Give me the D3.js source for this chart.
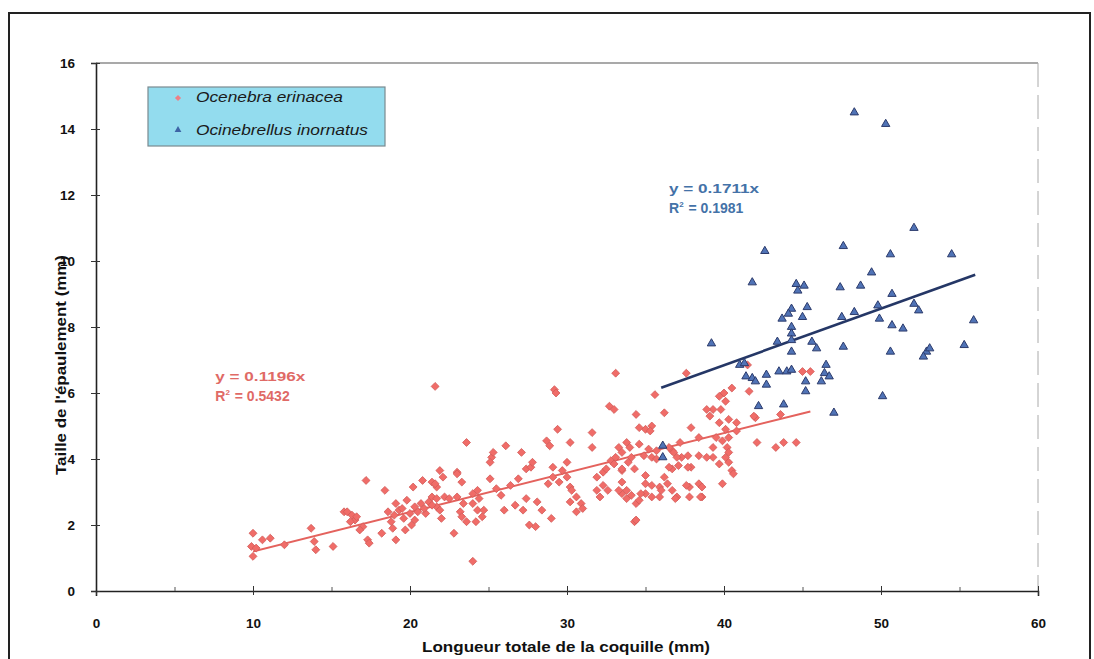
<!DOCTYPE html>
<html>
<head>
<meta charset="utf-8">
<script src="https://cdn.jsdelivr.net/npm/d3@7"></script>
<style>
  body { margin: 0; background: #fff; }
  svg { display: block; font-family: "Liberation Sans", Arial, sans-serif; }
</style>
</head>
<body>
<div id="chart"></div>
<script>
(function () {
    'use strict';

    // Ocenebra erinacea : [longueur, epaulement]
    const erinacea = [
        [10.0,1.75],[9.9,1.35],[10.0,1.05],[10.2,1.3],[10.6,1.55],[11.1,1.6],[12.0,1.4],[13.7,1.9],[13.9,1.5],[14.0,1.25],
        [15.1,1.35],[15.8,2.4],[16.0,2.4],[16.3,2.3],[16.5,2.15],[16.2,2.1],[16.6,2.25],[17.2,3.35],[17.3,1.55],[17.4,1.45],
        [17.0,1.95],[16.8,1.85],[18.2,1.75],[18.4,3.05],[19.1,1.55],[19.1,2.65],[19.3,2.45],[19.7,1.85],[19.8,2.75],[20.2,3.15],
        [20.0,2.35],[20.3,2.55],[20.3,2.15],[20.7,2.65],[20.8,3.35],[21.0,2.35],[21.4,3.3],[21.6,6.2],[21.4,2.85],[21.7,2.55],
        [21.7,3.15],[19.5,2.5],[19.0,2.3],[18.8,2.1],[18.6,2.4],[20.5,2.4],[20.9,2.5],[21.2,2.7],[19.6,2.2],[20.1,2.0],[18.9,1.9],
        [21.9,3.65],[22.1,3.45],[21.6,3.25],[21.7,2.8],[22.2,2.85],[22.5,2.8],[21.9,2.45],[21.4,2.6],[22.0,2.2],[23.0,2.85],
        [23.0,3.6],[23.3,3.3],[23.4,2.65],[23.2,2.4],[23.3,2.25],[23.6,2.1],[24.0,2.95],[24.0,2.65],[24.3,3.05],[24.3,2.45],
        [24.4,2.8],[24.6,2.25],[24.7,2.45],[24.2,2.1],[25.1,3.4],[25.2,4.05],[25.3,4.2],[25.1,3.9],[25.8,2.9],[26.1,4.4],
        [26.0,2.45],[27.1,4.2],[27.2,2.45],[27.4,2.8],[27.4,3.7],[27.7,3.75],[27.8,3.9],[27.6,2.0],[28.1,2.7],[28.4,2.45],
        [28.7,4.55],[28.9,4.4],[29.1,3.75],[29.1,3.45],[28.8,3.25],[29.2,6.1],[29.3,6.0],[29.4,4.9],[29.5,3.3],[29.7,3.65],
        [30.0,3.9],[30.0,3.45],[30.2,4.5],[30.2,3.15],[30.3,3.05],[30.2,2.7],[30.6,2.85],[30.9,2.65],[31.0,2.5],[30.6,2.4],
        [31.6,4.8],[31.6,4.35],[31.9,3.45],[31.9,3.05],[32.1,2.85],[32.3,3.6],[32.5,3.7],[32.7,5.6],[33.0,5.5],[32.8,3.95],
        [33.0,3.85],[33.1,6.6],[33.3,4.35],[33.1,4.05],[33.5,3.65],[33.5,3.3],[32.3,3.2],[32.6,3.05],[33.5,2.95],[33.9,3.9],
        [22.8,1.75],[23.6,4.5],[24.0,0.9],[23.0,3.55],[26.4,3.2],[26.7,2.6],[28.0,1.95],[29.0,2.2],[25.5,3.1],[26.9,3.4],
        [35.6,5.95],[37.6,6.6],[40.0,6.0],[40.5,6.15],[41.6,6.05],[41.5,6.85],[42.0,5.25],[42.1,4.5],[43.3,4.35],[39.3,5.5],
        [39.8,5.5],[39.1,5.3],[39.7,5.1],[40.3,5.2],[40.8,5.1],[40.8,4.85],[40.1,4.9],[39.5,4.65],[39.9,4.55],[40.3,4.65],
        [40.2,4.35],[39.3,4.35],[40.3,4.2],[40.1,4.05],[39.3,4.05],[40.5,3.65],[39.9,3.25],[38.4,3.25],[38.6,3.15],[37.9,3.75],
        [37.8,3.15],[38.6,2.85],[37.8,2.85],[37.0,2.85],[36.7,3.05],[36.7,3.7],[36.2,3.45],[35.9,3.15],[35.9,2.85],[35.4,2.85],
        [35.0,2.95],[35.0,3.25],[34.4,2.65],[34.6,2.75],[33.8,3.05],[33.3,3.05],[34.3,2.1],[34.4,2.15],[36.0,3.05],[35.7,4.25],
        [35.0,4.9],[34.6,4.95],[34.4,5.35],[33.8,4.5],[37.2,4.5],[37.9,4.95],[38.4,4.65],[36.7,4.25],[37.3,4.05],[39.7,5.9],
        [40.1,5.75],[45.0,6.65],[45.5,6.65],[41.9,5.3],[43.6,5.35],[43.8,4.5],[44.6,4.5],[38.9,5.5],[36.2,5.4],[35.4,5.0],
        [35.3,4.85],[34.6,4.45],[34.0,4.35],[34.9,4.1],[33.5,4.2],[34.1,4.05],[33.5,3.7],[34.3,3.7],[35.2,4.3],[35.4,4.05],
        [36.5,4.35],[36.8,4.2],[37.0,4.05],[37.7,4.1],[38.4,4.1],[38.9,4.05],[39.7,3.85],[40.3,3.9],[40.6,3.55],[37.1,3.8],
        [37.7,3.75],[36.5,3.75],[35.7,4.0],[35.0,3.5],[35.4,3.2],[36.4,3.25],[37.6,3.2],[33.8,2.8],[34.1,2.9],[34.7,2.95],
        [36.9,2.8],[38.5,2.85]
    ];

    // Ocinebrellus inornatus : [longueur, epaulement]
    const inornatus = [
        [48.3,14.5],[50.3,14.15],[42.6,10.3],[52.1,11.0],[47.6,10.45],[54.5,10.2],[50.6,10.2],[41.8,9.35],[44.6,9.3],[45.1,9.25],
        [47.4,9.2],[48.7,9.25],[49.4,9.65],[50.7,9.0],[44.3,8.55],[45.3,8.6],[45.0,8.3],[43.7,8.25],[44.3,8.0],[44.3,7.8],
        [47.5,8.3],[48.3,8.45],[49.8,8.65],[52.1,8.7],[52.4,8.5],[49.9,8.25],[50.7,8.05],[51.4,7.95],[55.9,8.2],[39.2,7.5],
        [43.4,7.55],[44.3,7.6],[45.6,7.55],[44.3,7.25],[45.9,7.35],[47.6,7.4],[50.6,7.25],[52.9,7.25],[53.1,7.35],[52.7,7.1],
        [55.3,7.45],[41.0,6.85],[41.3,6.9],[41.4,6.5],[41.8,6.45],[42.0,6.35],[42.7,6.55],[42.7,6.25],[43.5,6.65],[44.0,6.65],
        [44.3,6.7],[46.5,6.85],[46.4,6.6],[46.7,6.5],[46.2,6.35],[45.2,6.35],[45.2,6.05],[50.1,5.9],[47.0,5.4],[42.2,5.6],
        [43.8,5.65],[36.1,4.4],[36.1,4.05],[44.7,9.1],[44.1,8.4]
    ];

    // regressions through origin
    const slopes = [0.1196, 0.1711];
    const fitRanges = [[10, 45.5], [36, 56]];
    const eqLabels = [["y = 0.1196x", "0.5432"], ["y = 0.1711x", "0.1981"]];
    const eqPos = [[7.6, 6.36], [36.5, 12.05]];

    const seriesNames = ["Ocenebra erinacea", "Ocinebrellus inornatus"];
    const xTicks = [0, 10, 20, 30, 40, 50, 60];
    const xMinor = [5, 15, 25, 35, 45, 55];
    const yTicks = [0, 2, 4, 6, 8, 10, 12, 14, 16];

    const W = 1094, H = 659;
    const redFill = "#f06c68", redLine = "#e4625d", redText = "#e06a66";
    const blueFill = "#5073b6", blueEdge = "#2c3b6c", blueLine = "#253766", blueText = "#4472a8";

    const svg = d3.select("#chart").append("svg")
        .attr("width", W)
        .attr("height", H);

    // outer frame
    svg.append("rect")
        .attr("x", 9).attr("y", 13)
        .attr("width", 1081).attr("height", 660)
        .attr("fill", "none")
        .attr("stroke", "#222")
        .attr("stroke-width", 2);

    const x = d3.scaleLinear().domain([0, 60]).range([96, 1038]);
    const y = d3.scaleLinear().domain([0, 16]).range([591, 63]);

    // plot border top / right (faint)
    svg.append("line")
        .attr("x1", x(0)).attr("x2", x(60)).attr("y1", y(16)).attr("y2", y(16))
        .attr("stroke", "#555").attr("stroke-width", 1.2);
    svg.append("line")
        .attr("x1", x(60)).attr("x2", x(60)).attr("y1", y(16)).attr("y2", y(0))
        .attr("stroke", "#aaa").attr("stroke-width", 1).attr("stroke-dasharray", "24,8");

    // x axis
    const gx = svg.append("g")
        .attr("transform", `translate(0,${y(0)})`)
        .call(d3.axisBottom(x).tickValues(xTicks).tickSize(5).tickPadding(22));
    gx.select(".domain").attr("stroke", "#222").attr("stroke-width", 1.6);
    gx.selectAll(".tick line").attr("y1", -5).attr("y2", 4).attr("stroke", "#333");
    gx.selectAll(".tick text")
        .attr("font-size", 13.5).attr("font-weight", "bold").attr("fill", "#111");

    const gxm = svg.append("g")
        .attr("transform", `translate(0,${y(0)})`)
        .call(d3.axisBottom(x).tickValues(xMinor).tickSize(0).tickFormat(""));
    gxm.select(".domain").remove();
    gxm.selectAll(".tick line").attr("y1", -4).attr("y2", 0).attr("stroke", "#555");

    // y axis
    const gy = svg.append("g")
        .attr("transform", `translate(${x(0)},0)`)
        .call(d3.axisLeft(y).tickValues(yTicks).tickSize(5).tickPadding(16));
    gy.select(".domain").attr("stroke", "#222").attr("stroke-width", 1.6);
    gy.selectAll(".tick line").attr("x1", -5).attr("x2", 4).attr("stroke", "#333");
    gy.selectAll(".tick text")
        .attr("font-size", 13.5).attr("font-weight", "bold").attr("fill", "#111");

    // axis titles
    svg.append("text")
        .attr("x", 566).attr("y", 652)
        .attr("text-anchor", "middle")
        .attr("font-size", 15).attr("font-weight", "bold").attr("fill", "#111")
        .attr("textLength", 288).attr("lengthAdjust", "spacingAndGlyphs")
        .text("Longueur totale de la coquille (mm)");

    svg.append("text")
        .attr("transform", `translate(66,365) rotate(-90)`)
        .attr("text-anchor", "middle")
        .attr("font-size", 14).attr("font-weight", "bold").attr("fill", "#111")
        .attr("textLength", 220).attr("lengthAdjust", "spacingAndGlyphs")
        .text("Taille de l'épaulement (mm)");

    // trend lines
    const lineColors = [redLine, blueLine];
    const lineWidths = [2, 2.6];
    fitRanges.forEach((r, i) => {
        svg.append("line")
            .attr("x1", x(r[0])).attr("y1", y(slopes[i] * r[0]))
            .attr("x2", x(r[1])).attr("y2", y(slopes[i] * r[1]))
            .attr("stroke", lineColors[i])
            .attr("stroke-width", lineWidths[i]);
    });

    // points
    const diamond = d3.symbol().type(d3.symbolDiamond2).size(40);
    const tri = d3.symbol().type(d3.symbolTriangle).size(30);

    svg.append("g").selectAll("path")
        .data(erinacea)
        .enter().append("path")
        .attr("d", diamond)
        .attr("transform", d => `translate(${x(d[0])},${y(d[1])})`)
        .attr("fill", redFill)
        .attr("stroke", "#d25a58")
        .attr("stroke-width", 0.8);

    svg.append("g").selectAll("path")
        .data(inornatus)
        .enter().append("path")
        .attr("d", tri)
        .attr("transform", d => `translate(${x(d[0])},${y(d[1])})`)
        .attr("fill", blueFill)
        .attr("stroke", blueEdge)
        .attr("stroke-width", 1);

    // equations
    const eqColors = [redText, blueText];
    eqLabels.forEach((lab, i) => {
        const x0 = x(eqPos[i][0]);
        const y0 = y(eqPos[i][1]);
        svg.append("text")
            .attr("x", x0).attr("y", y0)
            .attr("font-size", 13.5).attr("font-weight", "bold")
            .attr("fill", eqColors[i])
            .attr("textLength", 90).attr("lengthAdjust", "spacingAndGlyphs")
            .text(lab[0]);
        const t = svg.append("text")
            .attr("x", x0).attr("y", y0 + 20)
            .attr("font-size", 14).attr("font-weight", "bold")
            .attr("fill", eqColors[i]);
        t.append("tspan").text("R");
        t.append("tspan").attr("font-size", 8).attr("dy", -6).text("2");
        t.append("tspan").attr("dy", 6).attr("dx", 1).text(" = " + lab[1]);
    });

    // legend
    const lg = svg.append("g").attr("transform", "translate(148,87)");
    lg.append("rect")
        .attr("width", 237).attr("height", 59)
        .attr("fill", "#93dcee")
        .attr("stroke", "#7a8a90").attr("stroke-width", 1.2);
    lg.append("path").attr("d", d3.symbol().type(d3.symbolDiamond2).size(24)())
        .attr("transform", "translate(30,11)")
        .attr("fill", "#ee7f86");
    lg.append("path").attr("d", d3.symbol().type(d3.symbolTriangle).size(20)())
        .attr("transform", "translate(30,43)")
        .attr("fill", "#3d64a6");
    const legLens = [147, 172];
    seriesNames.forEach((n, i) => {
        lg.append("text")
            .attr("x", 48).attr("y", 15 + i * 33)
            .attr("font-size", 15).attr("font-style", "italic")
            .attr("fill", "#1a1a1a")
            .attr("textLength", legLens[i]).attr("lengthAdjust", "spacingAndGlyphs")
            .text(n);
    });
})();
</script>
</body>
</html>
